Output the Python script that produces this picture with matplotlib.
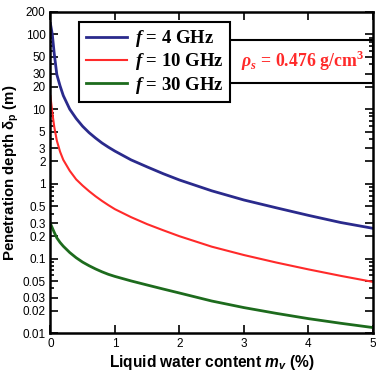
import numpy as np
import matplotlib
matplotlib.use("Agg")
import matplotlib.pyplot as plt
from matplotlib.patches import Rectangle
from matplotlib.ticker import FixedLocator, NullFormatter

plt.rcParams['font.family'] = ['Liberation Sans', 'DejaVu Sans']
plt.rcParams['mathtext.fontset'] = 'custom'
plt.rcParams['mathtext.rm'] = 'Liberation Sans:bold'
plt.rcParams['mathtext.it'] = 'Liberation Sans:italic:bold'
plt.rcParams['mathtext.bf'] = 'Liberation Serif:bold'
plt.rcParams['mathtext.bfit'] = 'Liberation Serif:italic:bold'

# liquid water content (%)
mv = [0, 0.03, 0.06, 0.1, 0.15, 0.2, 0.3, 0.4, 0.5, 0.6, 0.7, 0.8, 0.9, 1.0,
      1.25, 1.5, 1.75, 2.0, 2.5, 3.0, 3.5, 4.0, 4.5, 5.0]
# penetration depth (m)
depth_4ghz = [140, 100, 55, 29, 20.5, 15.2, 10.0, 7.5, 5.9, 4.85, 4.11, 3.53, 3.10, 2.75,
              2.1, 1.69, 1.37, 1.13, 0.81, 0.61, 0.48, 0.38, 0.305, 0.255]
depth_10ghz = [15, 9, 5.8, 3.8, 2.7, 2.1, 1.5, 1.15, 0.95, 0.80, 0.684, 0.593, 0.52, 0.46,
               0.36, 0.29, 0.24, 0.20, 0.145, 0.112, 0.089, 0.072, 0.059, 0.049]
depth_30ghz = [0.296, 0.258, 0.225, 0.19, 0.165, 0.147, 0.121, 0.103, 0.090, 0.0806, 0.073,
               0.0668, 0.0618, 0.058, 0.0505, 0.0445, 0.0393, 0.0348, 0.0272, 0.0222,
               0.0186, 0.0158, 0.0137, 0.012]

labels = [r'$\mathbfit{f}$ = 4 GHz', r'$\mathbfit{f}$ = 10 GHz', r'$\mathbfit{f}$ = 30 GHz']
colors = ['#2a2a8c', '#ff2a2a', '#1d6b1d']

yticks = [0.01, 0.02, 0.03, 0.05, 0.1, 0.2, 0.3, 0.5, 1, 2, 3, 5, 10, 20, 30, 50, 100, 200]
ytick_labels = ['0.01', '0.02', '0.03', '0.05', '0.1', '0.2', '0.3', '0.5', '1', '2', '3',
                '5', '10', '20', '30', '50', '100', '200']
yminor = [0.04, 0.06, 0.07, 0.08, 0.09, 0.4, 0.6, 0.7, 0.8, 0.9, 4, 6, 7, 8, 9, 40, 60, 70, 80, 90]

fig = plt.figure(figsize=(3.76, 3.72), dpi=100)
ax = fig.add_axes([0.134, 0.1035, 0.858, 0.8645])

ax.plot(mv, depth_4ghz, color=colors[0], lw=2.0, label=labels[0])
ax.plot(mv, depth_10ghz, color=colors[1], lw=1.5, label=labels[1])
ax.plot(mv, depth_30ghz, color=colors[2], lw=2.0, label=labels[2])

ax.set_yscale('log')
ax.set_xlim(0, 5)
ax.set_ylim(0.01, 200)
ax.yaxis.set_major_locator(FixedLocator(yticks))
ax.set_yticklabels(ytick_labels)
ax.yaxis.set_minor_locator(FixedLocator(yminor))
ax.yaxis.set_minor_formatter(NullFormatter())
ax.set_xticks([0, 1, 2, 3, 4, 5])
ax.tick_params(which='both', direction='in', top=True, right=True, labelsize=8.5, width=1.2)
ax.tick_params(which='major', length=6)
ax.tick_params(which='minor', length=3)
for s in ax.spines.values():
    s.set_linewidth(1.8)

ax.set_xlabel(r'Liquid water content $m_v$ (%)', fontsize=11.2, fontweight='bold', labelpad=2)
ax.set_ylabel(r'Penetration depth δ$_\mathrm{p}$ (m)', fontsize=10.8, fontweight='bold', labelpad=1)

# density box
ax.add_patch(Rectangle((0.55, 0.779), 0.45, 0.134, transform=ax.transAxes,
                       fill=False, edgecolor='black', lw=1.5, zorder=3))
ax.text(0.78, 0.846, r'$\mathbfit{\rho}_\mathbfit{s}$ = 0.476 g/cm$^\mathbf{3}$', transform=ax.transAxes,
        color='#ff2a2a', fontsize=12.8, fontweight='bold', family='Liberation Serif',
        ha='center', va='center', zorder=4)

leg = ax.legend(loc='upper left', bbox_to_anchor=(0.09, 0.97), frameon=True, fancybox=False,
                edgecolor='black', framealpha=1, borderpad=0.35, borderaxespad=0,
                handlelength=2.2, labelspacing=0.12, handletextpad=0.4,
                prop={'family': 'Liberation Serif', 'weight': 'bold', 'size': 13.5})
leg.get_frame().set_linewidth(1.5)
leg.set_zorder(5)

fig.savefig('out.png', dpi=100)
